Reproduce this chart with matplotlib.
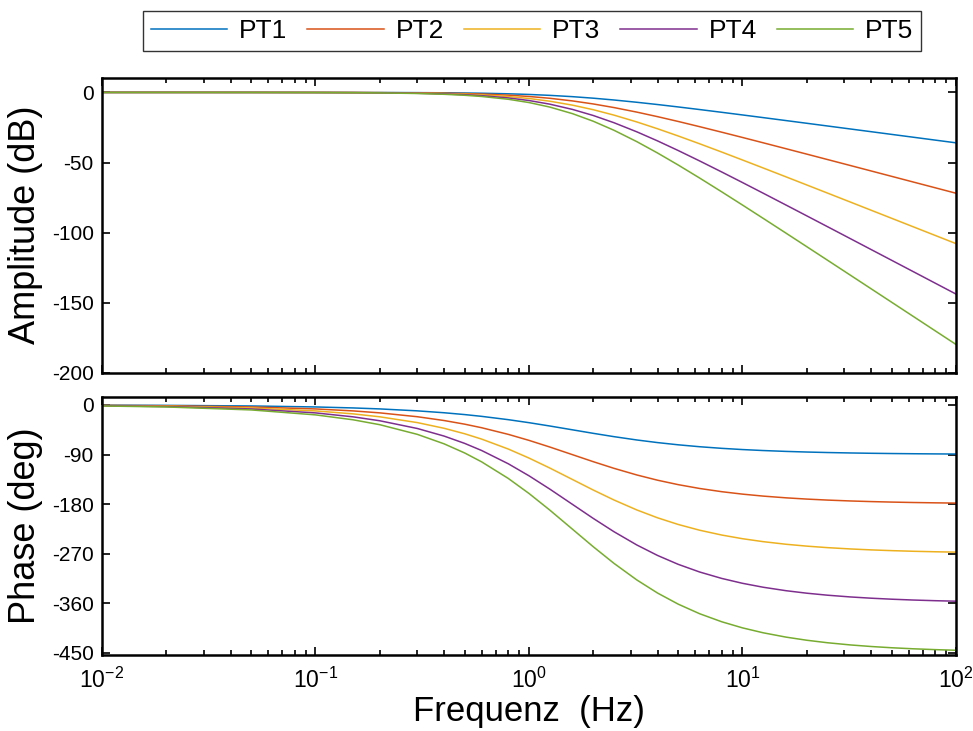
import matplotlib
matplotlib.use("Agg")
import matplotlib.pyplot as plt
from matplotlib.ticker import LogLocator, FixedLocator, NullFormatter

plt.rcParams["font.family"] = ["Liberation Sans", "DejaVu Sans"]
plt.rcParams["mathtext.fontset"] = "custom"
plt.rcParams["mathtext.rm"] = "Liberation Sans"
plt.rcParams["mathtext.it"] = "Liberation Sans"
plt.rcParams["mathtext.default"] = "regular"

# frequency grid (Hz) and values
freq = [0.01, 0.02, 0.05, 0.1, 0.15, 0.2, 0.3, 0.4, 0.5, 0.6, 0.8, 1, 1.25, 1.6, 2,
        2.5, 3.2, 4, 5, 6.3, 8, 10, 12.5, 16, 20, 25, 32, 40, 50, 63, 80, 100]

amp_pt1 = [0.0, 0.0, 0.0, -0.02, -0.04, -0.07, -0.15, -0.27, -0.41, -0.58, -0.98, -1.45,
           -2.09, -3.03, -4.11, -5.40, -7.03, -8.64, -10.36, -12.22, -14.19, -16.07,
           -17.97, -20.09, -22.01, -23.94, -26.08, -28.01, -29.95, -31.95, -34.03, -35.96]
amp_pt2 = [0.0, 0.0, -0.01, -0.03, -0.08, -0.14, -0.30, -0.53, -0.82, -1.15, -1.96, -2.89,
           -4.17, -6.07, -8.23, -10.80, -14.05, -17.29, -20.72, -24.44, -28.39, -32.14,
           -35.94, -40.18, -44.02, -47.88, -52.15, -56.02, -59.89, -63.91, -68.05, -71.93]
amp_pt3 = [0.0, 0.0, -0.01, -0.05, -0.12, -0.20, -0.45, -0.80, -1.23, -1.73, -2.93, -4.34,
           -6.26, -9.10, -12.34, -16.20, -21.08, -25.93, -31.09, -36.66, -42.58, -48.22,
           -53.92, -60.27, -66.04, -71.82, -78.23, -84.04, -89.84, -95.86, -102.08, -107.89]
amp_pt4 = [0.0, 0.0, -0.02, -0.07, -0.15, -0.27, -0.61, -1.06, -1.64, -2.31, -3.91, -5.78,
           -8.35, -12.13, -16.46, -21.60, -28.11, -34.57, -41.45, -48.88, -56.78, -64.29,
           -71.89, -80.36, -88.05, -95.76, -104.31, -112.05, -119.79, -127.81, -136.11, -143.86]
amp_pt5 = [0.0, 0.0, -0.02, -0.09, -0.19, -0.34, -0.76, -1.33, -2.04, -2.89, -4.89, -7.23,
           -10.43, -15.17, -20.57, -27.00, -35.13, -43.22, -51.81, -61.10, -70.97, -80.36,
           -89.86, -100.44, -110.06, -119.70, -130.39, -140.06, -149.74, -159.77, -170.14, -179.82]

ph_pt1 = [-0.36, -0.72, -1.80, -3.60, -5.38, -7.16, -10.68, -14.11, -17.44, -20.66, -26.69,
          -32.14, -38.15, -45.15, -51.49, -57.52, -63.56, -68.30, -72.34, -75.82, -78.75,
          -80.96, -82.74, -84.32, -85.45, -86.36, -87.15, -87.72, -88.18, -88.55, -88.86, -89.09]
ph_pt2 = [-0.72, -1.44, -3.60, -7.19, -10.77, -14.33, -21.35, -28.22, -34.88, -41.32, -53.37,
          -64.28, -76.29, -90.30, -102.98, -115.04, -127.11, -136.61, -144.69, -151.65, -157.50,
          -161.91, -165.49, -168.64, -170.90, -172.71, -174.31, -175.44, -176.35, -177.11,
          -177.72, -178.18]
ph_pt3 = [-1.08, -2.16, -5.40, -10.79, -16.15, -21.49, -32.03, -42.32, -52.32, -61.98, -80.06,
          -96.43, -114.44, -135.46, -154.47, -172.56, -190.67, -204.91, -217.03, -227.47,
          -236.25, -242.87, -248.23, -252.96, -256.35, -259.07, -261.46, -263.16, -264.53,
          -265.66, -266.58, -267.26]
ph_pt4 = [-1.44, -2.88, -7.20, -14.38, -21.54, -28.65, -42.70, -56.43, -69.76, -82.64, -106.75,
          -128.57, -152.58, -180.61, -205.95, -230.08, -254.22, -273.22, -289.37, -303.30,
          -315.00, -323.83, -330.98, -337.28, -341.80, -345.43, -348.61, -350.88, -352.71,
          -354.21, -355.44, -356.35]
ph_pt5 = [-1.80, -3.60, -9.00, -17.98, -26.92, -35.82, -53.38, -70.54, -87.20, -103.30, -133.44,
          -160.71, -190.73, -225.76, -257.44, -287.60, -317.78, -341.52, -361.72, -379.12,
          -393.75, -404.79, -413.72, -421.60, -427.25, -431.79, -435.77, -438.61, -440.89,
          -442.77, -444.30, -445.44]

labels = ["PT1", "PT2", "PT3", "PT4", "PT5"]
colors = ["#0072BD", "#D95319", "#EDB120", "#7E2F8E", "#77AC30"]
amps = [amp_pt1, amp_pt2, amp_pt3, amp_pt4, amp_pt5]
phases = [ph_pt1, ph_pt2, ph_pt3, ph_pt4, ph_pt5]

fig = plt.figure(figsize=(9.73, 7.31), dpi=100)
ax1 = fig.add_axes([0.1048, 0.4901, 0.8777, 0.4036])
ax2 = fig.add_axes([0.1048, 0.1040, 0.8777, 0.3533])

lines = []
for a, p, c, lab in zip(amps, phases, colors, labels):
    l, = ax1.plot(freq, a, color=c, lw=1.1, label=lab)
    ax2.plot(freq, p, color=c, lw=1.1)
    lines.append(l)

for ax in (ax1, ax2):
    ax.set_xscale("log")
    ax.set_xlim(0.01, 100)
    for s in ax.spines.values():
        s.set_linewidth(1.8)
    ax.tick_params(which="both", direction="in", top=True, right=True,
                   labelsize=15, width=1.2, pad=6)
    ax.tick_params(which="major", length=6)
    ax.tick_params(which="minor", length=3.5)
    ax.xaxis.set_major_locator(LogLocator(base=10, numticks=10))
    ax.xaxis.set_minor_locator(LogLocator(base=10, subs=range(2, 10), numticks=20))
    ax.xaxis.set_minor_formatter(NullFormatter())

ax1.set_ylim(-200, 10.5)
ax1.yaxis.set_major_locator(FixedLocator([0, -50, -100, -150, -200]))
ax1.set_yticklabels(["0", "-50", "-100", "-150", "-200"])
ax1.set_xticklabels([])
ax1.set_ylabel("Amplitude (dB)", fontsize=26, labelpad=6)

ax2.set_ylim(-454, 15)
ax2.yaxis.set_major_locator(FixedLocator([0, -90, -180, -270, -360, -450]))
ax2.set_yticklabels(["0", "-90", "-180", "-270", "-360", "-450"])
ax2.set_xticks([0.01, 0.1, 1, 10, 100])
ax2.set_xticklabels(["$10^{-2}$", "$10^{-1}$", "$10^{0}$", "$10^{1}$", "$10^{2}$"])
ax2.tick_params(axis="x", which="major", labelsize=16.5, pad=9)
ax2.set_ylabel("Phase (deg)", fontsize=26, labelpad=6)
ax2.set_xlabel("Frequenz  (Hz)", fontsize=25, labelpad=2)

fig.align_ylabels([ax1, ax2])

leg = fig.legend(lines, labels, loc="center", bbox_to_anchor=(0.5468, 0.9576), ncol=5,
                 fontsize=19, frameon=True, fancybox=False, edgecolor="black",
                 handlelength=2.9, handletextpad=0.45, columnspacing=0.75,
                 borderpad=0.3, borderaxespad=0)
leg.get_frame().set_linewidth(1.0)

fig.savefig("out.png", dpi=100, facecolor="white")
